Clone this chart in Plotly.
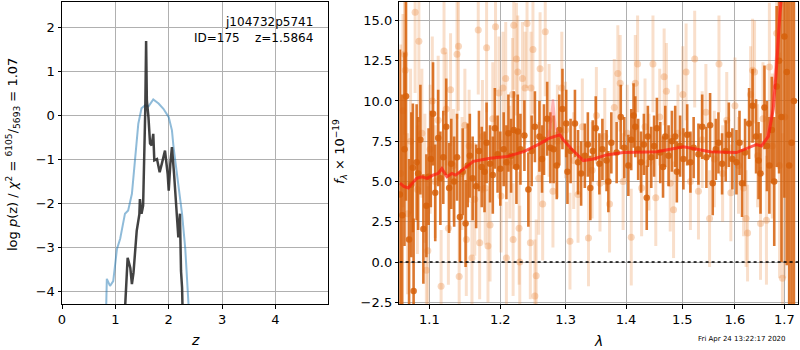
import plotly.graph_objects as go

# ---------------- left panel data: log p(z) ----------------
z_prior = [0.815, 0.84, 0.90, 0.96, 1.03, 1.09, 1.18, 1.24, 1.31, 1.37, 1.43, 1.49, 1.56, 1.62,
           1.71, 1.81, 1.90, 2.00, 2.06, 2.09, 2.15, 2.25, 2.31, 2.37, 2.405]
lp_prior = [-5.0, -3.71, -3.87, -3.76, -3.03, -2.80, -2.23, -2.16, -1.78, -1.03, -0.19, 0.16, 0.23, 0.20,
            0.36, 0.27, 0.15, -0.04, -0.34, -0.72, -1.33, -2.24, -3.03, -3.99, -5.0]

z_pz = [1.155, 1.23, 1.28, 1.31, 1.34, 1.37, 1.40, 1.45, 1.46, 1.49, 1.52, 1.56, 1.576, 1.59, 1.62,
        1.65, 1.68, 1.71, 1.73, 1.78, 1.83, 1.87, 1.93, 1.98, 2.00, 2.03, 2.06, 2.10, 2.15, 2.18,
        2.21, 2.23, 2.25, 2.27]
lp_pz = [-5.0, -3.23, -3.46, -3.83, -3.57, -3.00, -2.62, -2.24, -1.90, -2.23, -2.05, 0.11, 1.69, 0.34, -0.04,
         -0.64, -0.68, -0.42, -1.02, -0.99, -1.29, -1.10, -0.80, -1.33, -1.71, -1.10, -0.72, -1.33, -2.24, -2.77,
         -2.23, -3.53, -3.91, -5.0]

z_ticks = [0, 1, 2, 3, 4]
lp_ticks = [-4, -3, -2, -1, 0, 1, 2]

# ---------------- right panel data: spectrum ----------------
lam_a = [1.061, 1.064, 1.067, 1.069, 1.073, 1.076, 1.078, 1.079, 1.083, 1.085, 1.088, 1.092, 1.096, 1.099,
         1.102, 1.105, 1.108, 1.112, 1.115, 1.119, 1.123, 1.127, 1.130, 1.134, 1.138, 1.142, 1.146, 1.150,
         1.153, 1.156, 1.160, 1.165, 1.169, 1.173, 1.177, 1.180, 1.185, 1.189, 1.192, 1.196, 1.200, 1.205,
         1.209, 1.212, 1.216, 1.220, 1.224, 1.226, 1.230, 1.236, 1.242, 1.247, 1.252, 1.259, 1.263, 1.266,
         1.271, 1.276, 1.281, 1.286, 1.290, 1.295, 1.301, 1.303, 1.308, 1.315, 1.320, 1.325, 1.331, 1.336,
         1.340, 1.344, 1.349, 1.355, 1.360, 1.367, 1.370, 1.375, 1.384, 1.391, 1.397, 1.404, 1.409, 1.413,
         1.416, 1.421, 1.426, 1.431, 1.436, 1.438, 1.444, 1.449, 1.454, 1.460, 1.465, 1.469, 1.475, 1.481,
         1.487, 1.490, 1.496, 1.502, 1.509, 1.515, 1.521, 1.530, 1.537, 1.545, 1.552, 1.557, 1.563, 1.568,
         1.575, 1.582, 1.588, 1.595, 1.603, 1.609, 1.614, 1.620, 1.628, 1.635, 1.642, 1.647, 1.651, 1.659,
         1.664, 1.669, 1.674, 1.679, 1.684, 1.689, 1.694, 1.700, 1.705, 1.710, 1.715, 1.720]
flux_a = [4.2, 2.9, 7.0, 10.3, 1.4, 4.8, 5.85, -1.8, 6.2, 5.5, 7.6, 2.05, 3.5, 5.3,
          6.4, 9.2, 4.3, 7.7, 5.2, 6.5, 8.4, 4.6, 6.1, 5.0, 6.5, 2.8, 5.6, 2.4,
          6.0, 6.6, 5.2, 4.7, 6.9, 5.9, 5.6, 7.4, 6.1, 5.4, 8.3, 6.7, 5.8, 7.0,
          6.2, 8.0, 6.6, 8.2, 5.9, 8.1, 7.0, 7.85, 4.5, 6.9, 8.4, 7.8, 6.4, 7.6,
          8.9, 7.1, 7.0, 6.0, 8.2, 9.5, 8.6, 5.6, 6.9, 8.6, 6.2, 5.5, 6.6, 7.3,
          4.6, 6.9, 8.3, 6.1, 7.0, 6.3, 5.0, 7.4, 6.8, 9.0, 7.1, 6.0, 7.6, 9.1,
          8.4, 7.0, 6.2, 7.3, 4.0, 7.8, 6.5, 7.2, 8.3, 6.8, 5.9, 7.8, 6.6, 7.5,
          7.8, 5.6, 7.2, 6.4, 7.9, 6.2, 7.1, 6.7, 8.4, 6.5, 8.5, 4.9, 7.0, 7.4,
          6.1, 6.9, 7.9, 6.4, 6.2, 7.4, 4.9, 6.8, 8.6, 9.7, 7.8, 6.3, 5.5, 9.6,
          7.2, 6.0, 8.2, 5.0, 10.9, 12.5, 9.0, 14.0, 11.8, 6.0, 7.4, 10.0]
err_a = [9.0, 7.5, 6.0, 6.5, 5.0, 4.5, 4.0, 4.5, 3.6, 3.5, 3.4, 3.4, 3.2, 3.0,
         3.0, 3.2, 3.0, 3.0, 2.9, 2.9, 3.0, 2.8, 2.8, 2.8, 2.7, 2.8, 2.7, 2.7,
         2.6, 2.6, 2.6, 2.6, 2.5, 2.5, 2.5, 2.5, 2.4, 2.4, 2.5, 2.4, 2.3, 2.3,
         2.3, 2.4, 2.3, 2.4, 2.3, 2.3, 2.2, 2.2, 2.3, 2.2, 2.2, 2.2, 2.1, 2.2,
         2.3, 2.2, 2.1, 2.1, 2.2, 2.5, 2.1, 2.0, 2.0, 2.1, 2.0, 2.0, 2.0, 2.0,
         2.0, 1.9, 2.0, 1.9, 1.9, 1.9, 1.9, 1.9, 1.9, 2.0, 1.9, 1.9, 1.9, 2.0,
         1.9, 1.9, 1.9, 1.9, 2.0, 1.9, 1.9, 1.9, 1.9, 1.9, 1.9, 1.9, 1.9, 1.9,
         1.9, 1.9, 1.9, 1.9, 1.9, 1.9, 1.9, 1.9, 2.0, 1.9, 2.0, 2.0, 1.9, 1.9,
         1.9, 1.9, 2.0, 1.9, 2.0, 2.0, 2.1, 2.1, 2.2, 2.3, 2.3, 2.4, 2.5, 2.6,
         2.8, 3.0, 3.3, 4.0, 5.0, 7.0, 9.0, 10.0, 12.0, 14.0, 13.0, 15.0]

lam_b = [1.062, 1.065, 1.067, 1.068, 1.071, 1.075, 1.081, 1.084, 1.086, 1.090, 1.094, 1.096, 1.098, 1.101,
         1.104, 1.108, 1.112, 1.116, 1.120, 1.123, 1.126, 1.129, 1.133, 1.138, 1.140, 1.141, 1.145, 1.149,
         1.151, 1.155, 1.159, 1.163, 1.168, 1.170, 1.174, 1.178, 1.180, 1.182, 1.185, 1.189, 1.193, 1.198,
         1.201, 1.204, 1.208, 1.209, 1.214, 1.218, 1.219, 1.220, 1.224, 1.226, 1.228, 1.229, 1.233, 1.237,
         1.240, 1.245, 1.246, 1.249, 1.252, 1.254, 1.258, 1.260, 1.264, 1.268, 1.274, 1.280, 1.287, 1.294,
         1.300, 1.307, 1.313, 1.320, 1.327, 1.337, 1.343, 1.350, 1.356, 1.364, 1.372, 1.380, 1.386, 1.390,
         1.395, 1.402, 1.409, 1.416, 1.420, 1.427, 1.433, 1.440, 1.447, 1.452, 1.459, 1.467, 1.471, 1.478,
         1.484, 1.492, 1.501, 1.507, 1.515, 1.523, 1.530, 1.537, 1.544, 1.551, 1.560, 1.569, 1.576, 1.584,
         1.592, 1.600, 1.607, 1.617, 1.622, 1.625, 1.631, 1.635, 1.639, 1.645, 1.651, 1.656, 1.663, 1.669,
         1.675, 1.684, 1.690, 1.696, 1.701]
flux_b = [5.5, 9.4, 12.9, 11.9, 3.0, 7.5, 15.5, 4.5, 13.7, 8.0, 5.2, -0.5, 0.7, 7.0,
          10.0, 5.0, 8.8, -1.5, 13.1, 9.5, 2.1, 10.7, 6.0, 12.9, 13.4, -0.9, 5.5, 8.5,
          1.4, 7.2, 0.25, 3.9, 14.4, 1.2, 7.8, 4.6, 13.3, 1.0, 2.3, 8.9, 14.6, 10.5,
          4.1, 10.8, 11.4, 0.25, 6.2, 10.4, 1.4, 14.7, 12.6, 11.8, 2.1, 0.0, 11.4, 10.8,
          14.8, 1.2, 10.8, 13.2, -2.1, -0.85, 5.2, 12.0, 3.6, 14.3, 8.8, 4.4, 7.5, 10.8,
          8.2, 1.3, 6.3, 4.2, 8.4, 1.5, 5.7, 9.1, 4.9, 7.8, 3.6, 9.6, 11.7, 11.1,
          5.0, 8.0, 1.55, 11.1, 12.3, 4.6, 8.4, 6.2, 12.3, 4.0, 9.0, 11.5, 10.6, 4.9,
          3.25, 8.0, 10.4, 11.8, 5.0, 12.6, 4.4, 7.6, 9.3, 2.7, 6.4, 12.3, 5.5, 8.8,
          4.3, 9.7, 6.0, 4.6, 2.7, 1.8, 10.4, 11.9, 11.8, 6.6, 2.4, 8.9, 2.6, 12.1,
          7.2, 14.2, 6.0, -1.0, 9.0]
err_b = [8.0, 6.0, 5.0, 5.0, 5.0, 4.5, 5.0, 4.0, 5.0, 4.0, 4.0, 4.0, 4.0, 4.0,
         4.0, 3.5, 4.0, 3.5, 4.0, 3.5, 3.5, 3.5, 3.5, 4.0, 4.0, 3.5, 3.5, 3.5,
         3.5, 3.5, 3.5, 3.5, 4.0, 3.5, 3.5, 3.5, 4.0, 3.5, 3.5, 3.5, 4.0, 3.5,
         3.5, 3.5, 3.5, 3.5, 3.5, 3.5, 3.5, 4.0, 3.5, 3.5, 3.5, 3.5, 3.5, 3.5,
         4.0, 3.5, 3.5, 4.0, 3.5, 3.5, 3.5, 3.5, 3.5, 4.0, 3.5, 3.5, 3.5, 3.5,
         3.0, 3.0, 3.0, 3.0, 3.0, 3.0, 3.0, 3.0, 3.0, 3.0, 3.0, 3.0, 3.0, 3.0,
         3.0, 3.0, 3.0, 3.0, 3.0, 3.0, 3.0, 3.0, 3.0, 3.0, 3.0, 3.0, 3.0, 3.0,
         3.0, 3.0, 3.0, 3.0, 3.0, 3.0, 3.0, 3.0, 3.0, 3.0, 3.0, 3.0, 3.0, 3.0,
         3.0, 3.0, 3.0, 3.0, 3.0, 3.0, 3.0, 3.2, 3.2, 3.2, 3.5, 3.5, 4.0, 4.0,
         4.5, 5.0, 7.0, 9.0, 10.0]

lam_model = [1.061, 1.066, 1.072, 1.078, 1.083, 1.090, 1.097, 1.105, 1.112, 1.117, 1.124, 1.131, 1.136,
             1.142, 1.150, 1.161, 1.185, 1.210, 1.235, 1.260, 1.275, 1.291, 1.296, 1.310, 1.3285, 1.345,
             1.367, 1.395, 1.454, 1.502, 1.527, 1.552, 1.603, 1.643, 1.653, 1.667, 1.677, 1.684, 1.691, 1.6945]
flux_model = [4.9, 4.7, 4.6, 4.9, 5.2, 5.3, 5.2, 5.4, 5.5, 5.8, 5.3, 5.5, 5.4,
              5.6, 5.9, 6.25, 6.45, 6.55, 6.85, 7.35, 7.7, 7.9, 7.6, 7.0, 6.3, 6.4,
              6.65, 6.8, 6.85, 7.15, 7.0, 6.85, 6.8, 7.3, 7.2, 7.8, 9.5, 12.2, 15.5, 16.5]

lam_model_b = [1.262, 1.270, 1.276, 1.280, 1.284, 1.290, 1.296, 1.650, 1.662, 1.672, 1.680, 1.686, 1.692]
flux_model_b = [7.4, 7.6, 8.3, 10.1, 8.3, 7.9, 7.6, 7.2, 7.6, 9.0, 11.5, 14.0, 17.0]

lam_ticks = [1.1, 1.2, 1.3, 1.4, 1.5, 1.6, 1.7]
flux_ticks = [-2.5, 0.0, 2.5, 5.0, 7.5, 10.0, 12.5, 15.0]

# ---------------- figure ----------------
W, H = 800, 350
FONT = "DejaVu Sans"
DARK = "rgba(214,96,10,0.85)"
LIGHT_BAR = "rgba(235,140,70,0.28)"
LIGHT_MK = "rgba(235,140,70,0.35)"

fig = go.Figure()

fig.add_trace(go.Scatter(x=z_prior, y=lp_prior, mode="lines", xaxis="x", yaxis="y",
                         line=dict(color="rgba(31,119,180,0.5)", width=2), showlegend=False))
fig.add_trace(go.Scatter(x=z_pz, y=lp_pz, mode="lines", xaxis="x", yaxis="y",
                         line=dict(color="rgba(40,40,40,0.88)", width=2.5), showlegend=False))

fig.add_trace(go.Scatter(x=lam_b, y=flux_b, mode="markers", xaxis="x2", yaxis="y2",
                         marker=dict(color=LIGHT_MK, size=7, line=dict(width=0)),
                         error_y=dict(type="data", array=err_b, visible=True, thickness=3, width=0,
                                      color=LIGHT_BAR),
                         showlegend=False))
fig.add_trace(go.Scatter(x=lam_a, y=flux_a, mode="markers", xaxis="x2", yaxis="y2",
                         marker=dict(color=DARK, size=6.5, line=dict(width=0)),
                         error_y=dict(type="data", array=err_a, visible=True, thickness=2.6, width=0,
                                      color=DARK),
                         showlegend=False))
fig.add_trace(go.Scatter(x=lam_model_b[:7], y=flux_model_b[:7], mode="lines", xaxis="x2", yaxis="y2",
                         line=dict(color="rgba(255,90,90,0.45)", width=2.5), showlegend=False))
fig.add_trace(go.Scatter(x=lam_model_b[7:], y=flux_model_b[7:], mode="lines", xaxis="x2", yaxis="y2",
                         line=dict(color="rgba(255,90,90,0.45)", width=2.5), showlegend=False))
fig.add_trace(go.Scatter(x=lam_model, y=flux_model, mode="lines", xaxis="x2", yaxis="y2",
                         line=dict(color="rgba(255,25,15,0.7)", width=3), showlegend=False))
fig.add_trace(go.Scatter(x=[1.0, 1.8], y=[0, 0], mode="lines", xaxis="x2", yaxis="y2",
                         line=dict(color="black", width=1.5, dash="dot"), showlegend=False))

ydom = [1 - 304 / H, 1 - 1.7 / H]
axcommon = dict(showline=True, linecolor="black", linewidth=1, mirror=True,
                ticks="outside", ticklen=3.5, tickwidth=1, tickcolor="black",
                showgrid=True, gridcolor="#b0b0b0", gridwidth=0.8, zeroline=False,
                automargin=False,
                tickfont=dict(family=FONT, size=13, color="black"))

fig.update_layout(
    width=W, height=H, margin=dict(l=0, r=0, t=0, b=0, autoexpand=False),
    paper_bgcolor="white", plot_bgcolor="white", showlegend=False,
    font=dict(family=FONT, color="black"),
    xaxis=dict(domain=[62 / W, 328.3 / W], range=[0, 4.99], tickvals=z_ticks, anchor="y", **axcommon),
    yaxis=dict(domain=ydom, range=[-4.28, 2.58], tickvals=lp_ticks, anchor="x", **axcommon),
    xaxis2=dict(domain=[399.3 / W, 798 / W], type="log", range=[0.0254, 0.2377],
                tickvals=lam_ticks, ticktext=[f"{v:.1f}" for v in lam_ticks], anchor="y2", **axcommon),
    yaxis2=dict(domain=ydom, range=[-2.6, 16.16], tickvals=flux_ticks, tickformat=".1f",
                anchor="x2", **axcommon),
)

def ann(px, py, text, size=13, xanchor="center", yanchor="middle", angle=0, align="center"):
    fig.add_annotation(x=px / W, y=1 - py / H, xref="paper", yref="paper", text=text,
                       showarrow=False, xanchor=xanchor, yanchor=yanchor, textangle=angle,
                       align=align, font=dict(family=FONT, size=size, color="black"))

ann(195, 340, "<i>z</i>", size=14)
ann(598, 341, "<i>λ</i>", size=14)
ann(13, 155, "log <i>p</i>(z) / <i>χ</i><sup>2</sup> = <sup>6105</sup>/<sub>5693</sub> = 1.07", angle=-90)
ann(340, 152, "<i>f</i><sub><i>λ</i></sub> × 10<sup>−19</sup>", angle=-90)
ann(315, 13, "j104732p5741<br>ID=175\u00a0\u00a0\u00a0\u00a0z=1.5864", size=12,
    xanchor="right", yanchor="top", align="right")
ann(788, 339, "Fri Apr 24 13:22:17 2020", size=7, xanchor="right")

fig.write_html("out.html", config=dict(displayModeBar=False),
               post_script="document.body.style.margin='0';document.body.style.overflow='hidden';")
